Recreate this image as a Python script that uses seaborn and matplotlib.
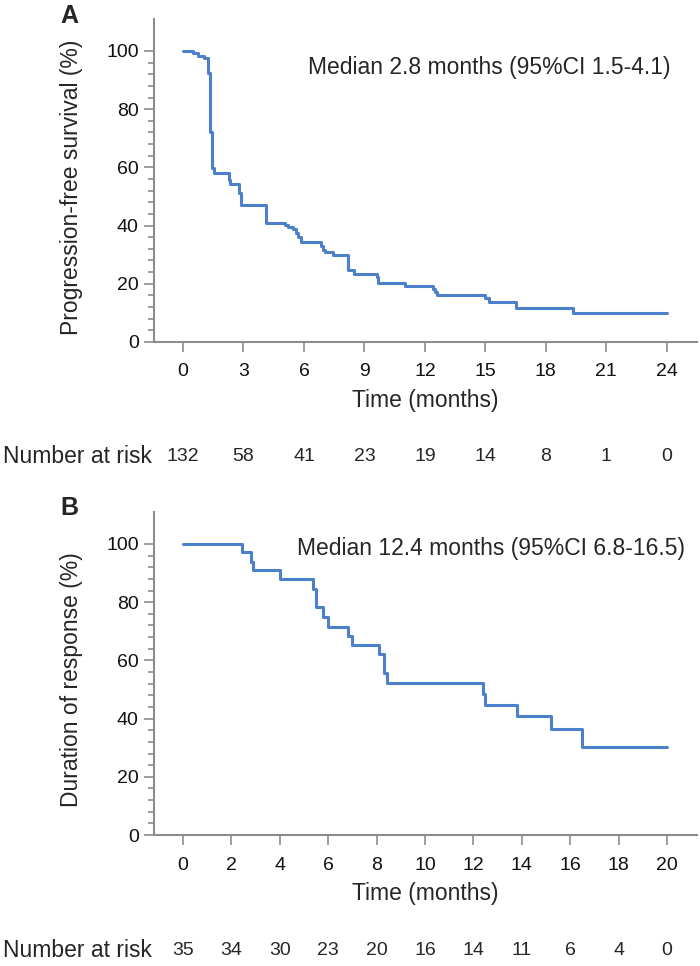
import numpy as np
import pandas as pd
import seaborn as sns
import matplotlib.pyplot as plt
from matplotlib.ticker import FixedLocator

# Panel A: progression-free survival (step times in months, survival %)
pfs_time = [0, 0.51, 0.76, 1.04, 1.26, 1.34, 1.42, 1.54, 2.28, 2.33, 2.80, 2.86,
            4.10, 5.05, 5.23, 5.47, 5.59, 5.72, 5.84, 6.83, 6.93, 7.05, 7.43,
            8.20, 8.49, 9.60, 9.69, 11.02, 12.42, 12.50, 12.62, 14.99, 15.20,
            16.51, 19.34]
pfs_surv = [100, 99.2, 98.4, 97.7, 92.5, 72.3, 59.7, 58.0, 55.7, 54.2, 51.1, 47.1,
            41.0, 40.3, 39.5, 38.7, 37.3, 36.0, 34.5, 33.1, 31.6, 30.9, 30.0,
            24.7, 23.4, 22.2, 20.4, 19.3, 18.1, 17.3, 16.2, 15.0, 13.9,
            11.6, 9.9]
pfs_end = 24.0
risk_a_time = [0, 3, 6, 9, 12, 15, 18, 21, 24]
risk_a_n = [132, 58, 41, 23, 19, 14, 8, 1, 0]

# Panel B: duration of response
dor_time = [0, 2.42, 2.80, 2.91, 4.01, 5.39, 5.50, 5.80, 6.00, 6.83, 6.97,
            8.11, 8.31, 8.42, 12.38, 12.48, 13.79, 15.19, 16.50]
dor_surv = [100, 97.1, 93.9, 90.9, 87.9, 84.5, 78.2, 75.0, 71.6, 68.5, 65.3,
            62.1, 55.6, 52.2, 48.6, 44.7, 41.0, 36.4, 30.3]
dor_end = 20.0
risk_b_time = [0, 2, 4, 6, 8, 10, 12, 14, 16, 18, 20]
risk_b_n = [35, 34, 30, 23, 20, 16, 14, 11, 6, 4, 0]

sns.set_style('ticks')
plt.rcParams['font.family'] = ['Liberation Sans', 'DejaVu Sans']

LINE = '#4d80cb'
GREY = '#8c8c8c'

fig = plt.figure(figsize=(7, 9.66), dpi=100)
axA = fig.add_axes([0.22, 0.646, 0.7757, 0.3344])
axB = fig.add_axes([0.22, 0.1356, 0.7757, 0.3344])


def km_panel(ax, times, surv, t_end, ticks, xlim, ylabel, note, note_xy,
             risk_n, letter, letter_y):
    df = pd.DataFrame({'time': times + [t_end], 'surv': surv + [surv[-1]]})
    sns.lineplot(data=df, x='time', y='surv', drawstyle='steps-post',
                 estimator=None, sort=False, color=LINE, lw=2.2, ax=ax)
    sns.despine(ax=ax)
    ax.set_xlim(*xlim)
    ax.set_ylim(0, 111)
    ax.set_xticks(ticks)
    ax.set_yticks(range(0, 101, 20))
    ax.yaxis.set_minor_locator(FixedLocator([v for v in range(0, 101, 4) if v % 20]))
    for s in ['left', 'bottom']:
        ax.spines[s].set_color(GREY)
        ax.spines[s].set_linewidth(1.5)
    ax.tick_params(axis='both', which='major', length=7.5, width=1.2,
                   color=GREY, labelsize=14, labelcolor='#111111')
    ax.tick_params(axis='x', pad=8)
    ax.tick_params(axis='y', which='minor', length=4.5, width=1.2, color=GREY)
    ax.set_xlabel('Time (months)', fontsize=16.5, labelpad=6)
    ax.set_ylabel(ylabel, fontsize=16.5)
    ax.yaxis.set_label_coords(-0.13, 0.48)
    ax.text(note_xy[0], note_xy[1], note, fontsize=16.5, ha='left', va='center')
    for t, n in zip(ticks, risk_n):
        ax.annotate(str(n), xy=(t, 0), xycoords=('data', 'axes fraction'),
                    xytext=(0, -115), textcoords='offset pixels',
                    ha='center', va='center', fontsize=14)
    ax.annotate('Number at risk', xy=(0, 0), xycoords='axes fraction',
                xytext=(-151, -115), textcoords='offset pixels',
                ha='left', va='center', fontsize=16.5)
    fig.text(69 / 700, 1 - letter_y / 966, letter, fontsize=18, fontweight='bold',
             ha='center', va='center')


km_panel(axA, pfs_time, pfs_surv, pfs_end, risk_a_time, (-1.44, 25.5),
         'Progression-free survival (%)', 'Median 2.8 months (95%CI 1.5-4.1)',
         (6.2, 94.2), risk_a_n, 'A', 16)
km_panel(axB, dor_time, dor_surv, dor_end, risk_b_time, (-1.2, 21.24),
         'Duration of response (%)', 'Median 12.4 months (95%CI 6.8-16.5)',
         (4.71, 98.6), risk_b_n, 'B', 508)

fig.savefig('out.png', dpi=100)
